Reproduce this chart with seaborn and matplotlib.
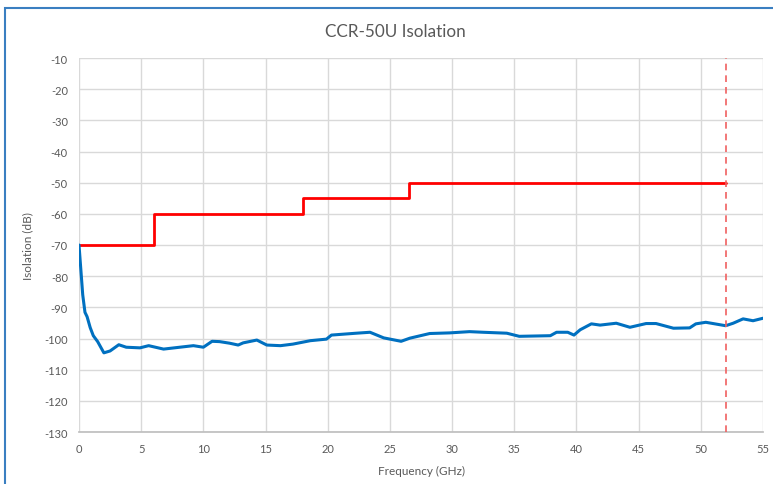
import matplotlib
matplotlib.use("Agg")
import matplotlib.pyplot as plt
import seaborn as sns
import pandas as pd
from matplotlib.patches import Rectangle

# Measured isolation (blue trace)
freq_ghz = [0.0, 0.15, 0.3, 0.48, 0.65, 0.9, 1.15, 1.5, 2.0, 2.5, 3.2, 3.8, 4.9, 5.6,
            6.8, 8.1, 9.2, 10.0, 10.7, 11.3, 12.1, 12.8, 13.2, 14.3, 15.1, 16.2, 17.2,
            18.6, 19.9, 20.3, 22.3, 23.4, 24.5, 25.9, 26.6, 28.2, 29.8, 31.4, 32.5,
            34.4, 35.4, 37.9, 38.4, 39.3, 39.8, 40.3, 41.2, 41.9, 43.2, 44.3, 45.6,
            46.4, 47.8, 49.1, 49.6, 50.4, 52.0, 52.6, 53.4, 54.2, 55.0]
isolation_db = [-70.0, -78.0, -86.0, -91.6, -93.0, -96.5, -99.1, -101.0, -104.6, -104.0,
                -102.0, -102.8, -103.0, -102.3, -103.4, -102.8, -102.3, -102.8, -100.9,
                -101.0, -101.5, -102.1, -101.4, -100.5, -102.1, -102.3, -101.8, -100.7,
                -100.2, -98.9, -98.3, -98.0, -99.8, -100.9, -99.9, -98.4, -98.2, -97.8,
                -98.0, -98.3, -99.3, -99.1, -98.0, -98.0, -98.9, -97.2, -95.3, -95.7,
                -95.1, -96.4, -95.2, -95.2, -96.7, -96.6, -95.3, -94.8, -95.9, -95.1,
                -93.7, -94.3, -93.5]

# Specification limit (red step line)
limit_freq = [0, 6, 18, 26.5, 52]
limit_db = [-70, -60, -55, -50, -50]

marker_freq = 52

x_ticks = list(range(0, 56, 5))
y_ticks = list(range(-130, -9, 10))

sns.set_theme(style="white")
plt.rcParams["font.family"] = ["Lato", "DejaVu Sans"]
plt.rcParams["axes.unicode_minus"] = False

fig = plt.figure(figsize=(7.73, 4.85), dpi=100)
ax = fig.add_axes([79 / 773, 1 - 433 / 485, (763 - 79) / 773, (433 - 59) / 485])

df = pd.DataFrame({"f": freq_ghz, "iso": isolation_db})
lim = pd.DataFrame({"f": limit_freq, "iso": limit_db})

sns.lineplot(data=lim, x="f", y="iso", ax=ax, color="#FF0000", linewidth=2,
             drawstyle="steps-post", zorder=3)
sns.lineplot(data=df, x="f", y="iso", ax=ax, color="#0070C0", linewidth=2.2, zorder=4)
ax.axvline(marker_freq, color="#F06060", linestyle=(0, (4, 3)), linewidth=1.2, zorder=5)

ax.set_xlim(0, 55)
ax.set_ylim(-130, -10)
ax.set_xticks(x_ticks)
ax.set_yticks(y_ticks)
ax.grid(True, color="#D9D9D9", linewidth=1)
ax.set_axisbelow(True)
for s in ["top", "right", "left"]:
    ax.spines[s].set_visible(False)
ax.spines["bottom"].set_color("#BFBFBF")
ax.tick_params(axis="both", length=0, labelsize=8, labelcolor="#595959", pad=8)
ax.set_xlabel("Frequency (GHz)", fontsize=8.5, color="#595959", labelpad=8)
ax.set_ylabel("Isolation (dB)", fontsize=8.5, color="#595959", labelpad=8)
fig.text(395 / 773, 1 - 32 / 485, "CCR-50U Isolation", ha="center", va="center",
         fontsize=12.3, color="#595959")

fig.patches.append(Rectangle((5 / 773, -0.1), 1.2, 1 - 9 / 485 + 0.1,
                             transform=fig.transFigure, fill=False,
                             edgecolor="#3A7FC1", linewidth=1.5))

fig.savefig("out.png", dpi=100, facecolor="white")
